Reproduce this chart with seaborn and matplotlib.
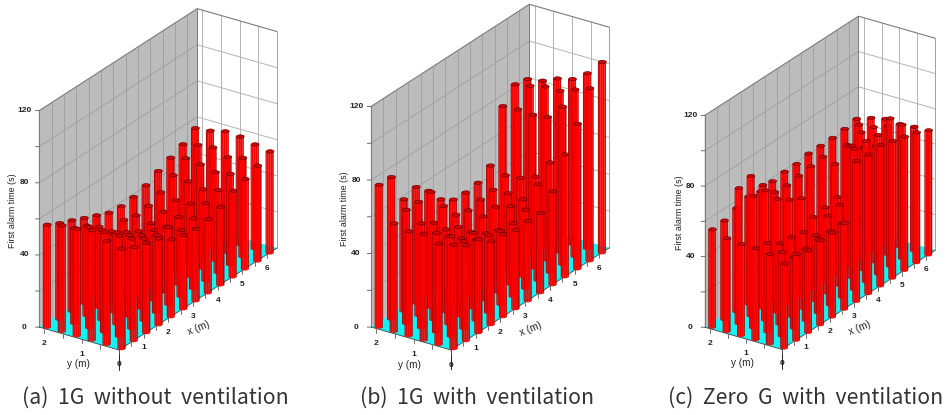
import numpy as np
import matplotlib
matplotlib.use("Agg")
import matplotlib.pyplot as plt
import seaborn as sns
from mpl_toolkits.mplot3d.art3d import Poly3DCollection
from mpl_toolkits.mplot3d import proj3d

sns.set_theme(style="white")
plt.rcParams['font.family'] = ['Liberation Sans', 'DejaVu Sans']

# bar positions (m)
x_pos = [0.1, 0.6, 1.1, 1.6, 2.1, 2.6, 3.1, 3.6, 4.1, 4.6, 5.1, 5.6, 6.1]
y_pos = [0.0, 0.4, 0.8, 1.2, 1.6, 2.0]

# first alarm time (s): one row per y position, one column per x position
times_a = [
    [55.6, 52, 50, 48, 43, 41, 40, 41, 43.5, 48, 50, 53, 56.5],
    [57.5, 56, 50, 45.5, 43, 43, 37, 39, 43, 46, 50.5, 55, 58],
    [61, 55.6, 51, 45, 40.5, 39, 36.5, 37.5, 40.5, 44, 49, 53, 60],
    [59.5, 56, 50, 43, 40, 36, 36, 38, 40, 46, 51, 56, 60.5],
    [59, 53, 50, 45, 38, 40, 38, 39, 42, 47, 52, 55, 58.5],
    [57, 53.5, 50.6, 47.5, 44.5, 41.6, 40.7, 41.5, 43.5, 47, 50, 53, 57.5],
]
times_b = [
    [56.7, 52, 51, 45.5, 45, 43, 43.4, 43.6, 51, 66.7, 79, 94, 104],
    [55, 54.5, 47.5, 44, 42, 40, 40, 43, 52.5, 60, 86, 91, 95.5],
    [58, 54, 48, 42.5, 41, 36.5, 34, 42.5, 42, 50, 78, 88, 90],
    [57, 57, 53, 45, 42, 35, 39, 40, 43, 47, 77, 88, 88],
    [59, 62, 62, 63, 51, 42, 40, 41.5, 42.5, 46, 77.5, 86, 84.5],
    [77.6, 77.5, 61, 63.4, 57, 48, 43.5, 43, 44, 49, 77, 84.5, 83],
]
times_c = [
    [48, 49, 46.6, 48, 48, 48.9, 79.8, 79, 80, 78, 76, 74, 70.8],
    [51, 47.8, 40.6, 41, 42, 42, 42, 80, 80, 79, 84, 76, 70.5],
    [52, 50.6, 46, 45, 43.6, 37.4, 44, 46, 75, 69.6, 66, 73, 69.7],
    [52, 75, 73.7, 64.5, 59.6, 56, 41, 42, 43.5, 68, 71.4, 70, 70.3],
    [53, 77, 79.5, 70, 61.6, 61, 62, 63, 64, 55.5, 62, 69, 68.5],
    [55.7, 56.3, 59, 61, 59.7, 61, 62, 62, 63.5, 63.5, 63.6, 64.3, 65.6],
]
captions = ["(a)  1G  without  ventilation", "(b)  1G  with  ventilation", "(c)  Zero  G  with  ventilation"]
x_ticks = [1, 2, 3, 4, 5, 6]
y_ticks = [0, 1, 2]
z_ticks = [0, 40, 80, 120]

X_MAX, Y_MAX, Z_MAX = 6.4, 2.14, 120
W, H = 950, 415
ELEV, AZIM = 25.5, -146.3
RADIUS = 0.09
SIDES = 12

fig = plt.figure(figsize=(W / 100, H / 100), dpi=100, facecolor="white")


def prism(ax, x, y, h, zorder):
    ang = np.linspace(0, 2 * np.pi, SIDES + 1) + np.pi / SIDES
    px = x + RADIUS * np.cos(ang)
    py = y + RADIUS * np.sin(ang)
    az = np.radians(AZIM)
    polys, cols = [], []
    for k in range(SIDES):
        mid = (ang[k] + ang[k + 1]) / 2
        d = np.cos(mid - az)
        if d <= -0.05:
            continue
        polys.append([(px[k], py[k], 0), (px[k + 1], py[k + 1], 0),
                      (px[k + 1], py[k + 1], h), (px[k], py[k], h)])
        v = 0.3 + 0.7 * min(1, max(0, d) / 0.85)
        cols.append((v, 0, 0))
    side = Poly3DCollection(polys, facecolors=cols, edgecolors=cols, linewidths=0.1, zorder=zorder)
    ax.add_collection3d(side, autolim=False)
    top = Poly3DCollection([list(zip(px[:-1], py[:-1], [h] * SIDES))], facecolors=(0.84, 0, 0),
                           edgecolors=(0.3, 0, 0), linewidths=0.4, zorder=zorder + 0.1)
    ax.add_collection3d(top, autolim=False)


def panel(times, caption, origin, x_end, box, cap_center):
    ax = fig.add_axes([0, 0, 300 / W, 300 / H], projection="3d", proj_type="ortho", computed_zorder=False)
    ax.view_init(elev=ELEV, azim=AZIM)
    ax.set_xlim(0, X_MAX, view_margin=0)
    ax.set_ylim(0, Y_MAX, view_margin=0)
    ax.set_zlim(0, Z_MAX, view_margin=0)
    ax.set_box_aspect(box)
    ax.set_axis_off()
    ax.patch.set_alpha(0)

    # place the axes so that the floor corners sit where the reference has them
    ax.apply_aspect()
    M = ax.get_proj()
    def flat(p):
        u, v, _ = proj3d.proj_transform(p[0], p[1], p[2], M)
        return u, v
    p0 = ax.transData.transform(flat((0, 0, 0)))
    p1 = ax.transData.transform(flat((X_MAX, 0, 0)))
    f = np.hypot(x_end[0] - origin[0], x_end[1] - origin[1]) / np.hypot(*(p1 - p0))
    ax.set_position([(origin[0] - p0[0] * f) / W, ((H - origin[1]) - p0[1] * f) / H, 300 * f / W, 300 * f / H])

    # walls and floor
    wall = [(0, Y_MAX, 0), (X_MAX, Y_MAX, 0), (X_MAX, Y_MAX, Z_MAX), (0, Y_MAX, Z_MAX)]
    ax.add_collection3d(Poly3DCollection([wall], facecolors="#bcbcbc", edgecolors="none", zorder=1), autolim=False)
    floor = [(0, 0, 0), (X_MAX, 0, 0), (X_MAX, Y_MAX, 0), (0, Y_MAX, 0)]
    ax.add_collection3d(Poly3DCollection([floor], facecolors="#14f2f4", edgecolors="none", zorder=3), autolim=False)

    gc = "#a2a2a2"
    wc = "#b4b4b4"
    for z in range(20, Z_MAX, 20):
        ax.plot([0, X_MAX], [Y_MAX, Y_MAX], [z, z], color=gc, lw=0.7, zorder=2)
        ax.plot([X_MAX, X_MAX], [Y_MAX, 0], [z, z], color=wc, lw=0.7, zorder=2)
    for xg in np.arange(0.5, X_MAX, 0.5):
        ax.plot([xg, xg], [Y_MAX, Y_MAX], [0, Z_MAX], color=gc, lw=0.7, zorder=2)
    for yg in np.arange(0.5, Y_MAX, 0.5):
        ax.plot([X_MAX, X_MAX], [yg, yg], [0, Z_MAX], color=wc, lw=0.7, zorder=2)
    ec = "#7c7c7c"
    ax.plot([0, X_MAX, X_MAX], [Y_MAX, Y_MAX, 0], [Z_MAX, Z_MAX, Z_MAX], color=ec, lw=0.8, zorder=2)
    ax.plot([X_MAX, X_MAX], [0, 0], [0, Z_MAX], color="#a0a0a0", lw=0.7, zorder=2)
    ax.plot([X_MAX, X_MAX], [Y_MAX, Y_MAX], [0, Z_MAX], color=ec, lw=0.7, zorder=2)
    ax.plot([0, 0], [Y_MAX, Y_MAX], [0, Z_MAX], color=ec, lw=0.8, zorder=2)

    # bars, back to front
    order = 10
    for j in range(len(y_pos) - 1, -1, -1):
        for i in range(len(x_pos) - 1, -1, -1):
            prism(ax, x_pos[i], y_pos[j], times[j][i], order)
            order += 1

    # floor edges and ticks
    ax.plot([0, X_MAX], [0, 0], [0, 0], color="#444444", lw=0.6, zorder=4)
    ax.plot([0, 0], [0, Y_MAX], [0, 0], color="#444444", lw=0.6, zorder=4)
    ax.plot([0, 0], [0, 0], [0, -11], color="#222222", lw=0.7, zorder=order + 1)
    for xt in np.arange(0, X_MAX, 0.5):
        ax.plot([xt, xt], [0, 0], [0, -2.2], color="#555555", lw=0.6, zorder=order + 1)
    for yt in np.arange(0, Y_MAX, 0.5):
        ax.plot([0, 0], [yt, yt], [0, -2.2], color="#555555", lw=0.6, zorder=order + 1)
    for zt in range(0, Z_MAX + 1, 20):
        ax.plot([0, 0], [Y_MAX, Y_MAX + 0.1], [zt, zt - 0.6], color="#555555", lw=0.6, zorder=order + 1)

    def label(p, s, **kw):
        u, v = flat(p)
        ax.text2D(u, v, s, transform=ax.transData, ha="center", va="center", color="#222222",
                  zorder=order + 2, **kw)

    # tick labels and axis titles
    fs = 6
    for xt in x_ticks:
        label((xt, 0, -7.7), str(xt), fontsize=fs, fontweight="bold")
    for yt in y_ticks:
        label((0, yt, -8.3), str(yt), fontsize=fs, fontweight="bold")
    for zt in z_ticks:
        label((0, Y_MAX + 0.4, zt - 2.4), str(zt), fontsize=fs, fontweight="bold")
    label((0, 1.1, -14.4), "y (m)", fontsize=7.2)
    label((3.24, 0, -16.6), "x (m)", fontsize=7.2, rotation=22)
    label((0, Y_MAX + 0.71, 60.5), "First alarm time (s)", fontsize=6.4, rotation=90)

    fig.text(cap_center / W, 1 - 398 / H, caption, ha="center", va="center", fontsize=15.3,
             family=["Noto Sans CJK KR", "DejaVu Sans"], fontweight="light", color="#333333")


panel(times_a, captions[0], (119, 350), (277, 248), (285, 96, 240), 155.5)
panel(times_b, captions[1], (451, 350), (609.3, 247.7), (285, 96, 244), 477.5)
panel(times_c, captions[2], (781.7, 349.3), (935, 249.3), (278.5, 93, 235.7), 806)

fig.savefig("out.png", dpi=100)
